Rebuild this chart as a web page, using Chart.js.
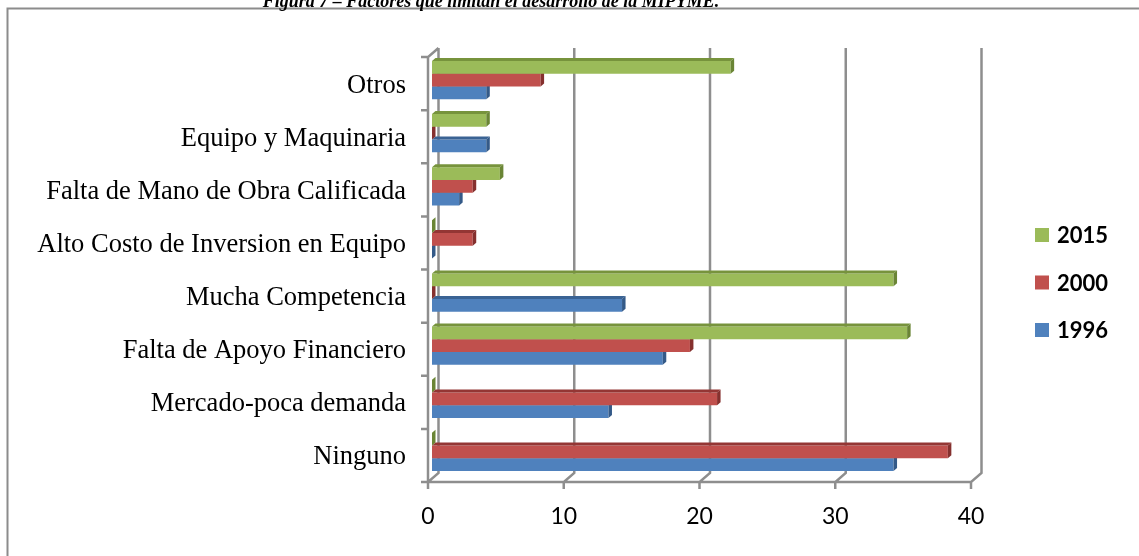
<!DOCTYPE html>
<html><head><meta charset="utf-8">
<script src="https://cdn.jsdelivr.net/npm/chart.js"></script>
<style>
html,body{margin:0;padding:0;background:#fff;overflow:hidden;width:1139px;height:556px;}
#wrap{position:relative;width:1139px;height:556px;overflow:hidden;}
#title{position:absolute;left:0;width:982px;top:-8px;text-align:center;font:bold italic 18px/18px "Liberation Serif","Times New Roman",serif;color:#000;z-index:2;white-space:nowrap;}
canvas{position:absolute;left:0;top:0;}
</style></head><body>
<div id="wrap"><canvas id="c" width="1139" height="556"></canvas><div id="title">Figura 7 – Factores que limitan el desarrollo de la MIPYME.</div></div>
<script>
const categories = ['Otros','Equipo y Maquinaria','Falta de Mano de Obra Calificada','Alto Costo de Inversion en Equipo','Mucha Competencia','Falta de Apoyo Financiero','Mercado-poca demanda','Ninguno'];
const seriesNames = ['2015','2000','1996'];
const values2015 = [22,4,5,0,34,35,0,0];
const values2000 = [8,0,3,3,0,19,21,38];
const values1996 = [4,4,2,0,14,17,13,34];
const xTicks = [0,10,20,30,40];

const frontColors = ['#9BBB59','#C0504D','#4F81BD'];
const topColors = ['#77933C','#943634','#3A6394'];
const sideColors = ['#6A8535','#85302E','#345A88'];

const FRONT_DX = -4, FRONT_DY = 3.5, BACK_DX = 6.5, BACK_DY = -5.5;

const framePlugin = {
  id: 'frame3d',
  beforeDraw(chart) {
    const ctx = chart.ctx;
    ctx.save();
    ctx.fillStyle = '#fff';
    ctx.fillRect(0, 0, chart.width, chart.height);
    ctx.strokeStyle = '#8c8c8c';
    ctx.lineWidth = 2;
    ctx.beginPath();
    ctx.moveTo(7.5, chart.height);
    ctx.lineTo(7.5, 8.5);
    ctx.lineTo(chart.width, 8.5);
    ctx.stroke();
    ctx.restore();
  },
  beforeDatasetsDraw(chart) {
    const ctx = chart.ctx, x = chart.scales.x, y = chart.scales.y;
    const n = categories.length;
    const yTopF = y.getPixelForValue(-0.5) + FRONT_DY, yBotF = y.getPixelForValue(n - 0.5) + FRONT_DY;
    const yTopB = y.getPixelForValue(-0.5) + BACK_DY, yBotB = y.getPixelForValue(n - 0.5) + BACK_DY;
    ctx.save();
    ctx.strokeStyle = '#8e8e8e';
    ctx.lineWidth = 2.5;
    ctx.lineJoin = 'miter';
    ctx.beginPath();
    xTicks.forEach(v => {
      const xb = x.getPixelForValue(v) + BACK_DX, xf = x.getPixelForValue(v) + FRONT_DX;
      ctx.moveTo(xb, yTopB); ctx.lineTo(xb, yBotB); ctx.lineTo(xf, yBotF); ctx.lineTo(xf, yBotF + 7);
    });
    const x0f = x.getPixelForValue(xTicks[0]) + FRONT_DX;
    const xNf = x.getPixelForValue(xTicks[xTicks.length - 1]) + FRONT_DX;
    ctx.moveTo(x0f, yBotF); ctx.lineTo(xNf, yBotF);
    ctx.moveTo(x0f, yBotF + 7); ctx.lineTo(x0f, yTopF); ctx.lineTo(x.getPixelForValue(xTicks[0]) + BACK_DX, yTopB);
    for (let i = 0; i <= n; i++) {
      const yy = y.getPixelForValue(i - 0.5) + FRONT_DY;
      ctx.moveTo(x0f - 7, yy); ctx.lineTo(x0f, yy);
    }
    ctx.stroke();
    ctx.restore();
  }
};

const facesPlugin = {
  id: 'faces3d',
  afterDatasetDraw(chart, args) {
    const ctx = chart.ctx, meta = args.meta, i = args.index;
    const d = 3.5, dy = 3;
    ctx.save();
    meta.data.forEach(el => {
      const p = el.getProps(['x', 'y', 'base', 'height'], true);
      const top = p.y - p.height / 2, bot = p.y + p.height / 2;
      const x1 = Math.max(p.x, p.base);
      ctx.fillStyle = topColors[i];
      ctx.beginPath();
      ctx.moveTo(p.base, top); ctx.lineTo(p.base + d, top - dy); ctx.lineTo(x1 + d, top - dy); ctx.lineTo(x1, top);
      ctx.closePath(); ctx.fill();
      ctx.fillStyle = sideColors[i];
      ctx.beginPath();
      ctx.moveTo(x1, top); ctx.lineTo(x1 + d, top - dy); ctx.lineTo(x1 + d, bot - dy); ctx.lineTo(x1, bot);
      ctx.closePath(); ctx.fill();
    });
    ctx.restore();
  }
};

const legendPlugin = {
  id: 'sideLegend',
  afterDraw(chart) {
    const ctx = chart.ctx;
    ctx.save();
    ctx.font = 'bold 22px Lato';
    ctx.textBaseline = 'middle';
    ctx.textAlign = 'left';
    chart.data.datasets.forEach((ds, i) => {
      const cy = 235 + i * 47.5;
      ctx.fillStyle = ds.backgroundColor;
      ctx.fillRect(1035, cy - 7, 14, 14);
      ctx.fillStyle = '#000';
      ctx.fillText(ds.label, 1057, cy + 1);
    });
    ctx.restore();
  }
};

function draw() {
  new Chart(document.getElementById('c'), {
    type: 'bar',
    data: {
      labels: categories,
      datasets: [
        { label: seriesNames[0], data: values2015, backgroundColor: frontColors[0], categoryPercentage: 0.72, barPercentage: 1 },
        { label: seriesNames[1], data: values2000, backgroundColor: frontColors[1], categoryPercentage: 0.72, barPercentage: 1 },
        { label: seriesNames[2], data: values1996, backgroundColor: frontColors[2], categoryPercentage: 0.72, barPercentage: 1 }
      ]
    },
    options: {
      indexAxis: 'y',
      responsive: false,
      animation: false,
      layout: { padding: { left: 0, right: 164, top: 53.5, bottom: 0 } },
      plugins: { legend: { display: false }, tooltip: { enabled: false }, title: { display: false } },
      scales: {
        x: {
          min: 0, max: 40,
          ticks: { stepSize: 10, font: { family: 'Lato', size: 23 }, color: '#000', padding: 24, labelOffset: -4 },
          grid: { display: false, drawTicks: false },
          border: { display: false },
          afterFit(s) { s.height = 77.5; }
        },
        y: {
          ticks: { font: { family: 'Liberation Serif', size: 26.5 }, color: '#000', padding: 26, labelOffset: 5.5, autoSkip: false },
          grid: { display: false, drawTicks: false },
          border: { display: false },
          afterFit(s) { s.width = 432; }
        }
      }
    },
    plugins: [framePlugin, facesPlugin, legendPlugin]
  });
}
if (document.fonts && document.fonts.load) {
  Promise.all([document.fonts.load('23px Lato'), document.fonts.load('bold 22px Lato'), document.fonts.load('26px "Liberation Serif"')]).then(draw, draw);
} else { draw(); }
</script>
</body></html>
